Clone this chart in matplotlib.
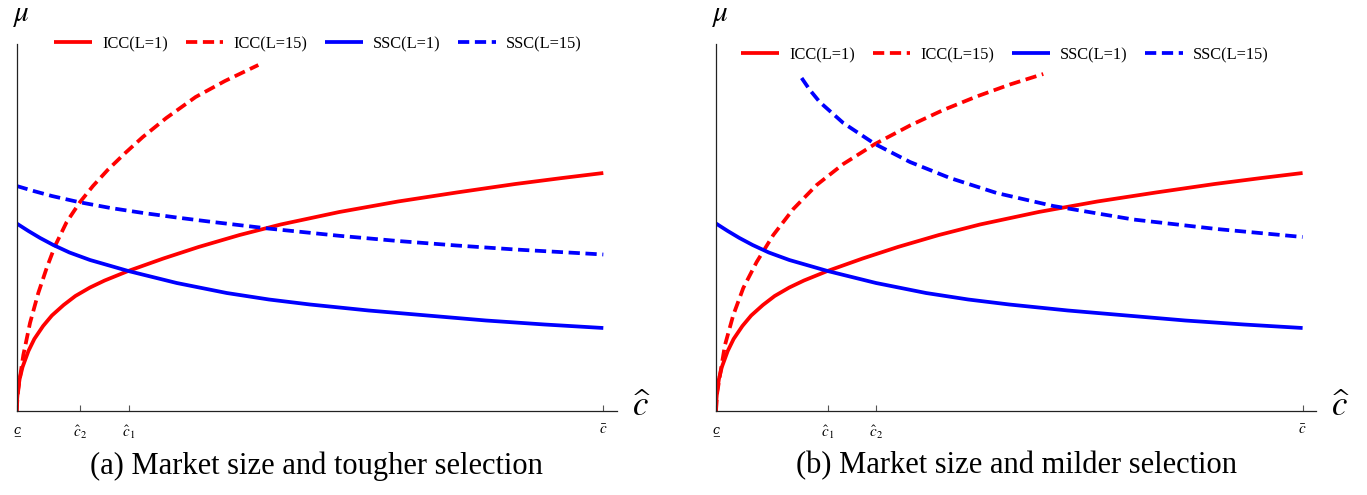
import numpy as np
import matplotlib.pyplot as plt

plt.rcParams['mathtext.fontset'] = 'stix'
plt.rcParams['font.family'] = ['Liberation Serif', 'DejaVu Serif']

# curvas comunes a ambos paneles (L=1)
c_icc1 = [0, 0.0005, 0.002, 0.005, 0.01, 0.02, 0.03, 0.045, 0.06, 0.08, 0.1, 0.125, 0.15,
          0.19, 0.25, 0.31, 0.38, 0.45, 0.55, 0.65, 0.75, 0.85, 0.93, 1.0]
mu_icc1 = [0, 0.10, 0.20, 0.32, 0.44, 0.60, 0.72, 0.85, 0.955, 1.06, 1.15, 1.235, 1.305,
           1.40, 1.525, 1.64, 1.76, 1.865, 1.99, 2.095, 2.185, 2.27, 2.33, 2.38]
c_ssc1 = [0, 0.02, 0.04, 0.0624, 0.09, 0.125, 0.1902, 0.2728, 0.358, 0.43, 0.5, 0.6,
          0.7, 0.8, 0.9, 1.0]
mu_ssc1 = [1.875, 1.80, 1.73, 1.66, 1.585, 1.51, 1.40, 1.28, 1.18, 1.115, 1.065, 1.005,
           0.955, 0.905, 0.865, 0.83]

# panel (a): seleccion mas dura
c_icc15_a = [0, 0.0015, 0.0044, 0.0113, 0.0227, 0.0368, 0.0511, 0.0653, 0.0852, 0.108,
             0.13, 0.155, 0.185, 0.215, 0.255, 0.305, 0.355, 0.4119]
mu_icc15_a = [0, 0.15, 0.29, 0.56, 0.88, 1.18, 1.43, 1.65, 1.89, 2.09,
              2.25, 2.41, 2.58, 2.74, 2.93, 3.14, 3.30, 3.46]
c_ssc15_a = [0, 0.03, 0.06, 0.105, 0.16, 0.2158, 0.27, 0.33, 0.43, 0.55, 0.65, 0.75, 0.85, 1.0]
mu_ssc15_a = [2.25, 2.198, 2.15, 2.09, 2.03, 1.98, 1.937, 1.893, 1.824, 1.752, 1.70, 1.655,
              1.615, 1.565]

# panel (b): seleccion mas suave
c_icc15_b = [0, 0.002, 0.0068, 0.0153, 0.0295, 0.0465, 0.0693, 0.0977, 0.1318, 0.1716,
             0.217, 0.271, 0.3307, 0.3874, 0.4443, 0.5011, 0.5579]
mu_icc15_b = [0, 0.18, 0.36, 0.66, 0.96, 1.23, 1.49, 1.76, 2.02, 2.26,
              2.47, 2.67, 2.855, 3.01, 3.145, 3.265, 3.37]
c_ssc15_b = [0.146, 0.16, 0.1768, 0.217, 0.271, 0.3307, 0.3988, 0.4784, 0.575, 0.7113,
             0.8534, 1.0]
mu_ssc15_b = [3.33, 3.21, 3.09, 2.88, 2.67, 2.49, 2.33, 2.18, 2.05, 1.915, 1.82, 1.74]

ticks_a = [0, 0.108, 0.191, 1.0]
ticks_b = [0, 0.191, 0.2725, 1.0]
c_under = 'c\u0332'
labels_a = [c_under, r'$\hat{c}_2$', r'$\hat{c}_1$', r'$\bar{c}$']
labels_b = [c_under, r'$\hat{c}_1$', r'$\hat{c}_2$', r'$\bar{c}$']

captions = ['(a) Market size and tougher selection', '(b) Market size and milder selection']
leyenda = ['ICC(L=1)', 'ICC(L=15)', 'SSC(L=1)', 'SSC(L=15)']

W, H = 1367, 495
fig = plt.figure(figsize=(W / 100, H / 100), dpi=100)

paneles = [
    (16.7, c_icc15_a, mu_icc15_a, c_ssc15_a, mu_ssc15_a, ticks_a, labels_a, 44, 318),
    (716.0, c_icc15_b, mu_icc15_b, c_ssc15_b, mu_ssc15_b, ticks_b, labels_b, 55, 1005),
]

lw = 2.7
dash = (3, 1.5)
for i, (x0, ci, mi, cs, ms, tk, tl, ley_y, ley_x) in enumerate(paneles):
    ax = fig.add_axes([x0 / W, (H - 411) / H, 600 / W, 367.3 / H])
    h1, = ax.plot(c_icc1, mu_icc1, color='red', lw=lw, solid_capstyle='butt')
    h2, = ax.plot(ci, mi, color='red', lw=lw, dashes=dash)
    h3, = ax.plot(c_ssc1, mu_ssc1, color='blue', lw=lw, solid_capstyle='butt')
    h4, = ax.plot(cs, ms, color='blue', lw=lw, dashes=dash)
    ax.set_xlim(0, 600 / 586.6)
    ax.set_ylim(0, 3.673)
    for s in ['top', 'right']:
        ax.spines[s].set_visible(False)
    for s in ['left', 'bottom']:
        ax.spines[s].set_color('#222222')
        ax.spines[s].set_linewidth(0.9)
    ax.set_yticks([])
    ax.set_xticks(tk)
    ax.set_xticklabels(tl, fontsize=11)
    for t in ax.get_xticklabels():
        if t.get_text() == c_under:
            t.set_family(['DejaVu Serif'])
            t.set_style('italic')
            t.set_fontsize(9)
    ax.tick_params(axis='x', direction='in', length=4.5, width=0.8, color='#555555', pad=9)

    fig.legend([h1, h2, h3, h4], leyenda, loc='center', ncol=4, frameon=False,
               bbox_to_anchor=(ley_x / W, 1 - ley_y / H), fontsize=11.8,
               handlelength=2.3, handletextpad=0.6, columnspacing=1.1, borderpad=0)

    fig.text((x0 + 5) / W, 1 - 16 / H, r'$\mu$', fontsize=21, ha='center', va='center')
    fig.text((x0 + 625) / W, 1 - 407 / H, r'$\widehat{c}$', fontsize=25, ha='center', va='center')
    fig.text((x0 + 300) / W, 1 - 466 / H, captions[i], fontsize=22, ha='center', va='center')

fig.savefig('out.png', dpi=100)
